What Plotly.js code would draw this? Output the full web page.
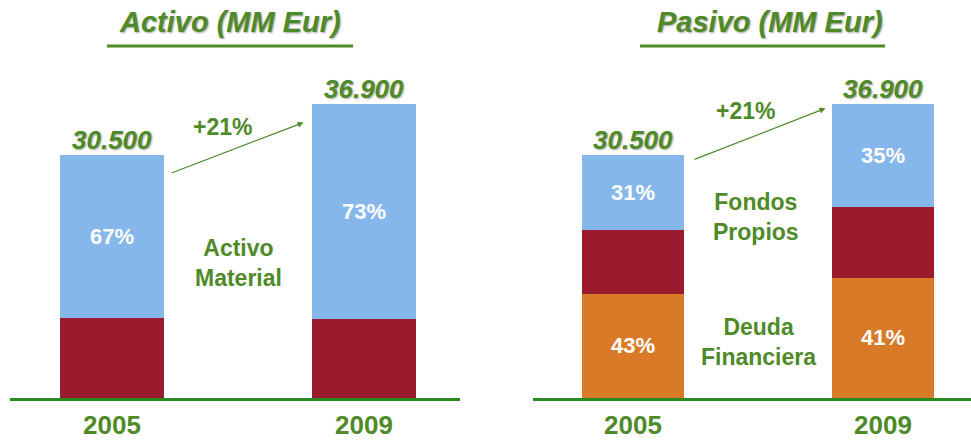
<!DOCTYPE html>
<html>
<head>
<meta charset="utf-8">
<script src="https://cdn.plot.ly/plotly-3.0.1.min.js"></script>
<style>html,body{margin:0;padding:0;background:#fff;}#chart{width:971px;height:443px;}</style>
</head>
<body>
<div id="chart"></div>
<script>
// ---- data ----
const years = ['2005', '2009'];
const totals = [30500, 36900];
const totalLabels = ['30.500', '36.900'];
const activoMaterialPct = [67, 73];
const activoOtroPct = [33, 27];
const pasivoFondosPct = [31, 35];
const pasivoOtroPct = [26, 24];
const pasivoDeudaPct = [43, 41];
const growthLabel = '+21%';
const titles = ['Activo (MM Eur)', 'Pasivo (MM Eur)'];

// ---- styles ----
const GREEN = '#4e8a28';
const LINEGREEN = '#2a8a22';
const BLUE = '#86b7ea';
const RED = '#9b1a2e';
const ORANGE = '#d97a28';
const FONT = 'Arial, "Liberation Sans", sans-serif';
const SHADOW = '1px 1px 2px rgba(0,0,0,0.35)';

const seg = pct => totals.map((t, i) => t * pct[i] / 100);
const pctText = pct => pct.map(p => p + '%');
const inFont = {family: FONT, size: 22, color: '#ffffff', weight: 'bold'};
const W = 0.41;

const traces = [
  {type: 'bar', x: years, y: seg(activoOtroPct), xaxis: 'x', yaxis: 'y', width: W,
   marker: {color: RED}, hoverinfo: 'skip'},
  {type: 'bar', x: years, y: seg(activoMaterialPct), xaxis: 'x', yaxis: 'y', width: W,
   marker: {color: BLUE}, text: pctText(activoMaterialPct), textposition: 'inside',
   insidetextanchor: 'middle', textfont: inFont, hoverinfo: 'skip'},
  {type: 'bar', x: years, y: seg(pasivoDeudaPct), xaxis: 'x2', yaxis: 'y2', width: W,
   marker: {color: ORANGE}, text: pctText(pasivoDeudaPct), textposition: 'inside',
   insidetextanchor: 'middle', textfont: inFont, hoverinfo: 'skip'},
  {type: 'bar', x: years, y: seg(pasivoOtroPct), xaxis: 'x2', yaxis: 'y2', width: W,
   marker: {color: RED}, hoverinfo: 'skip'},
  {type: 'bar', x: years, y: seg(pasivoFondosPct), xaxis: 'x2', yaxis: 'y2', width: W,
   marker: {color: BLUE}, text: pctText(pasivoFondosPct), textposition: 'inside',
   insidetextanchor: 'middle', textfont: inFont, hoverinfo: 'skip'}
];

const tickFont = {family: FONT, size: 26, color: GREEN, weight: 'bold'};
const totFont = {family: FONT, size: 26, color: GREEN, weight: 'bold', style: 'italic', shadow: SHADOW};
const lblFont = {family: FONT, size: 23, color: GREEN, weight: 'bold'};
const titleFont = {family: FONT, size: 29, color: GREEN, weight: 'bold', style: 'italic', shadow: SHADOW};

const annotations = [];
['x', 'x2'].forEach((xr, k) => {
  const yr = k === 0 ? 'y' : 'y2';
  years.forEach((yv, i) => {
    annotations.push({xref: xr, yref: yr, x: i, y: totals[i], text: totalLabels[i],
      showarrow: false, xanchor: 'center', yanchor: 'bottom', yshift: -2, font: totFont});
  });
});
// growth labels + arrows
annotations.push({xref: 'x', yref: 'y', x: 0.44, y: 34000, text: growthLabel, showarrow: false, xanchor: 'center', font: lblFont});
annotations.push({xref: 'x2', yref: 'y2', x: 0.45, y: 36000, text: growthLabel, showarrow: false, xanchor: 'center', font: lblFont});
annotations.push({xref: 'x', yref: 'y', axref: 'x', ayref: 'y', x: 0.76, y: 34600, ax: 0.23, ay: 28200,
  text: '', showarrow: true, arrowhead: 2, arrowsize: 1, arrowwidth: 1.2, arrowcolor: GREEN, standoff: 0});
annotations.push({xref: 'x2', yref: 'y2', axref: 'x2', ayref: 'y2', x: 0.77, y: 36400, ax: 0.24, ay: 29900,
  text: '', showarrow: true, arrowhead: 2, arrowsize: 1, arrowwidth: 1.2, arrowcolor: GREEN, standoff: 0});
// segment names
annotations.push({xref: 'x', yref: 'y', x: 0.5, y: 17000, text: 'Activo<br>Material', showarrow: false, xanchor: 'center', font: lblFont});
annotations.push({xref: 'x2', yref: 'y2', x: 0.49, y: 22700, text: 'Fondos<br>Propios', showarrow: false, xanchor: 'center', font: lblFont});
annotations.push({xref: 'x2', yref: 'y2', x: 0.5, y: 7000, text: 'Deuda<br>Financiera', showarrow: false, xanchor: 'center', font: lblFont});
// titles
annotations.push({xref: 'paper', yref: 'paper', x: 230 / 971, y: 1 - 22 / 443, text: titles[0], showarrow: false,
  xanchor: 'center', yanchor: 'middle', font: titleFont});
annotations.push({xref: 'paper', yref: 'paper', x: 770 / 971, y: 1 - 22 / 443, text: titles[1], showarrow: false,
  xanchor: 'center', yanchor: 'middle', font: titleFont});

const shapes = [
  {type: 'line', xref: 'paper', yref: 'paper', x0: 107 / 971, x1: 353 / 971, y0: 1 - 46 / 443, y1: 1 - 46 / 443,
   line: {color: GREEN, width: 3}},
  {type: 'line', xref: 'paper', yref: 'paper', x0: 640 / 971, x1: 885 / 971, y0: 1 - 46 / 443, y1: 1 - 46 / 443,
   line: {color: GREEN, width: 3}}
];

const xBase = {type: 'category', showline: true, linecolor: LINEGREEN, linewidth: 3, showgrid: false,
  zeroline: false, ticks: '', tickfont: tickFont, ticklabelstandoff: 2, fixedrange: true};
const yBase = {range: [0, 50000], visible: false, showgrid: false, zeroline: false, domain: [45 / 443, 1], fixedrange: true};

const layout = {
  width: 971, height: 443,
  margin: {l: 0, r: 0, t: 0, b: 0},
  paper_bgcolor: '#ffffff', plot_bgcolor: 'rgba(0,0,0,0)',
  barmode: 'stack', showlegend: false,
  font: {family: FONT},
  xaxis: Object.assign({}, xBase, {domain: [10 / 971, 460 / 971], range: [-0.405, 1.381], anchor: 'y'}),
  xaxis2: Object.assign({}, xBase, {domain: [533 / 971, 1], range: [-0.4, 1.352], anchor: 'y2'}),
  yaxis: Object.assign({}, yBase, {anchor: 'x'}),
  yaxis2: Object.assign({}, yBase, {anchor: 'x2'}),
  annotations: annotations,
  shapes: shapes
};

Plotly.newPlot('chart', traces, layout, {displayModeBar: false, staticPlot: true});
</script>
</body>
</html>
